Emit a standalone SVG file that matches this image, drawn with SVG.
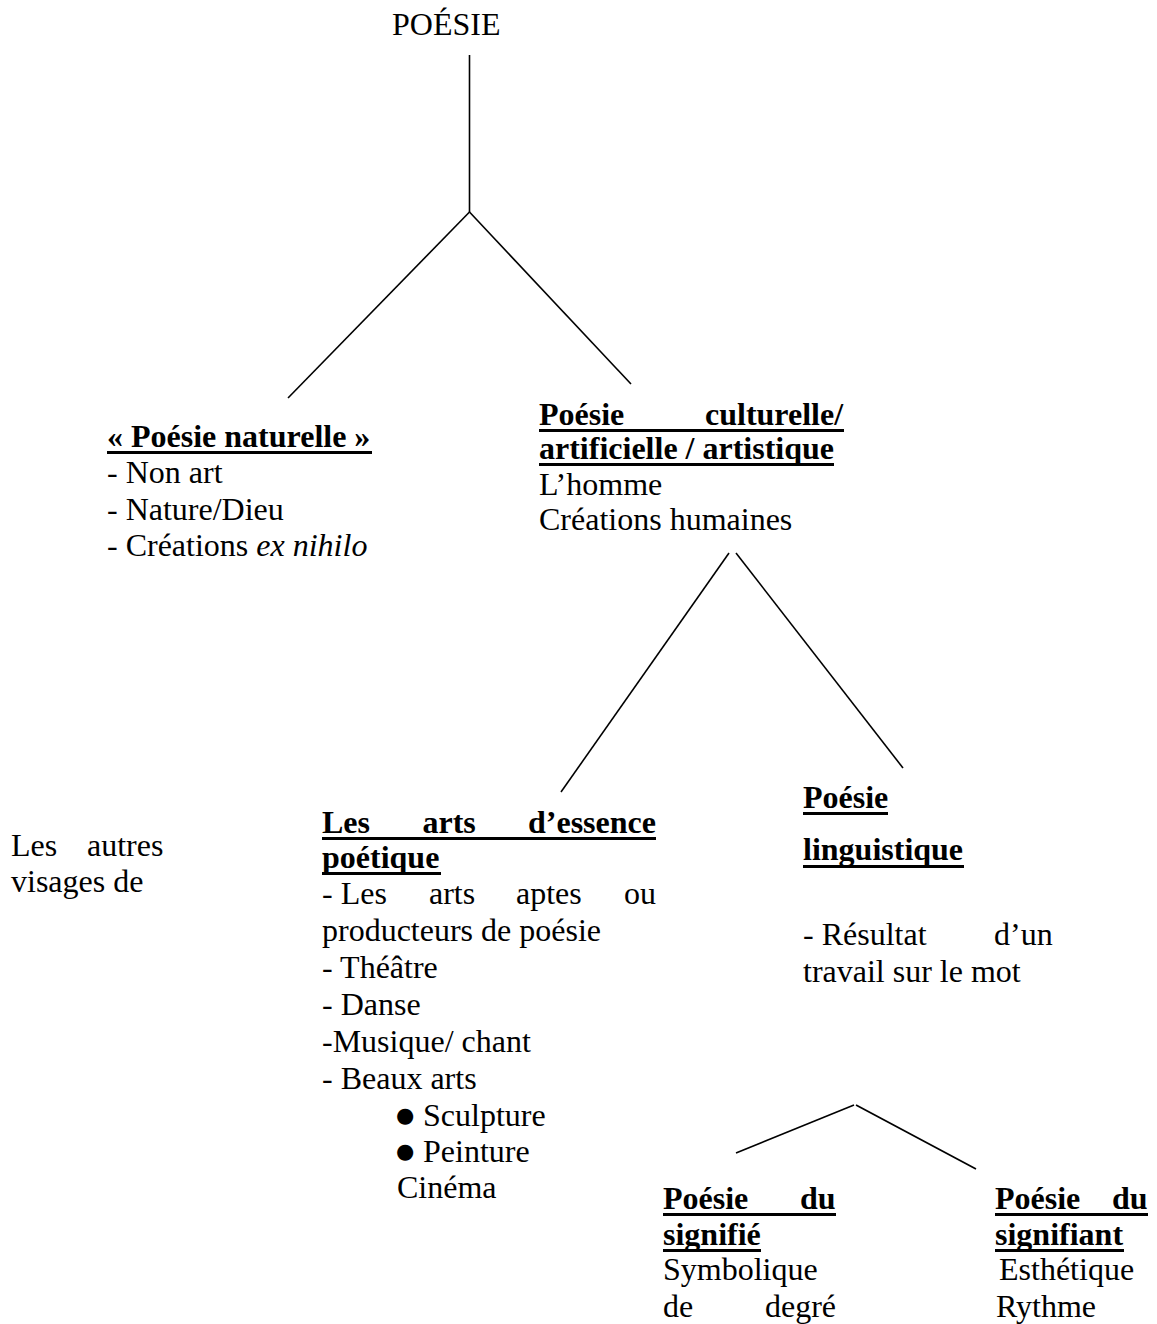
<svg xmlns="http://www.w3.org/2000/svg" width="1157" height="1324" viewBox="0 0 1157 1324">
<style>
text{font-family:"Liberation Serif","Times New Roman",serif;font-size:32px;fill:#000}
.b{font-weight:bold}
.i{font-style:italic}
.bul{font-family:"DejaVu Sans",sans-serif;font-size:21px}
.u{fill:#000}
.c line{stroke:#000;stroke-width:1.6;fill:none}
</style>
<rect width="1157" height="1324" fill="#fff"/>
<g class="c" id="connectors">
<line x1="469.5" y1="55" x2="469.5" y2="212"/>
<line x1="469.5" y1="212" x2="288" y2="398"/>
<line x1="469.5" y1="212" x2="631" y2="384"/>
<line x1="729" y1="553" x2="561" y2="792"/>
<line x1="736" y1="553" x2="903" y2="768"/>
<line x1="736" y1="1153" x2="854" y2="1105"/>
<line x1="856" y1="1105" x2="976" y2="1169"/>
</g>
<g id="root">
<text x="392" y="35">POÉSIE</text>
</g>
<g id="naturelle">
<text class="b" x="107" y="447">« Poésie naturelle »</text>
<rect class="u" x="107" y="451" width="265" height="3"/>
<text x="107" y="483">- Non art</text>
<text x="107" y="520">- Nature/Dieu</text>
<text x="107" y="556">- Créations <tspan class="i">ex nihilo</tspan></text>
</g>
<g id="culturelle">
<text class="b" x="539" y="425">Poésie</text>
<text class="b" x="705" y="425">culturelle/</text>
<rect class="u" x="539" y="429" width="305" height="3"/>
<text class="b" x="539" y="459">artificielle / artistique</text>
<rect class="u" x="539" y="463" width="295" height="3"/>
<text x="539" y="495">L’homme</text>
<text x="539" y="530">Créations humaines</text>
</g>
<g id="autres">
<text x="11" y="856">Les</text>
<text x="87" y="856">autres</text>
<text x="11" y="892">visages de</text>
</g>
<g id="arts">
<text class="b" x="322" y="833">Les</text>
<text class="b" x="422.5" y="833">arts</text>
<text class="b" x="528" y="833">d’essence</text>
<rect class="u" x="322" y="837" width="334" height="3"/>
<text class="b" x="322" y="868">poétique</text>
<rect class="u" x="322" y="872" width="119" height="3"/>
<text x="322" y="904">- Les</text>
<text x="429" y="904">arts</text>
<text x="516" y="904">aptes</text>
<text x="624" y="904">ou</text>
<text x="322" y="941">producteurs de poésie</text>
<text x="322" y="978">- Théâtre</text>
<text x="322" y="1015">- Danse</text>
<text x="322" y="1052">-Musique/ chant</text>
<text x="322" y="1089">- Beaux arts</text>
<text class="bul" x="396" y="1122">●</text>
<text x="423" y="1126">Sculpture</text>
<text class="bul" x="396" y="1158">●</text>
<text x="423" y="1162">Peinture</text>
<text x="397" y="1198">Cinéma</text>
</g>
<g id="linguistique">
<text class="b" x="803" y="808">Poésie</text>
<rect class="u" x="803" y="812" width="85" height="3"/>
<text class="b" x="803" y="860">linguistique</text>
<rect class="u" x="803" y="865" width="161" height="3"/>
<text x="803" y="945">- Résultat</text>
<text x="994" y="945">d’un</text>
<text x="803" y="982">travail sur le mot</text>
</g>
<g id="signifie">
<text class="b" x="663" y="1209">Poésie</text>
<text class="b" x="800" y="1209">du</text>
<rect class="u" x="663" y="1213" width="173" height="3"/>
<text class="b" x="663" y="1245">signifié</text>
<rect class="u" x="663" y="1249" width="98" height="3"/>
<text x="663" y="1280">Symbolique</text>
<text x="663" y="1317">de</text>
<text x="765" y="1317">degré</text>
</g>
<g id="signifiant">
<text class="b" x="995" y="1209">Poésie</text>
<text class="b" x="1112" y="1209">du</text>
<rect class="u" x="995" y="1213" width="153" height="3"/>
<text class="b" x="995" y="1245">signifiant</text>
<rect class="u" x="995" y="1249" width="129" height="3"/>
<text x="999" y="1280">Esthétique</text>
<text x="996" y="1317">Rythme</text>
</g>
</svg>
